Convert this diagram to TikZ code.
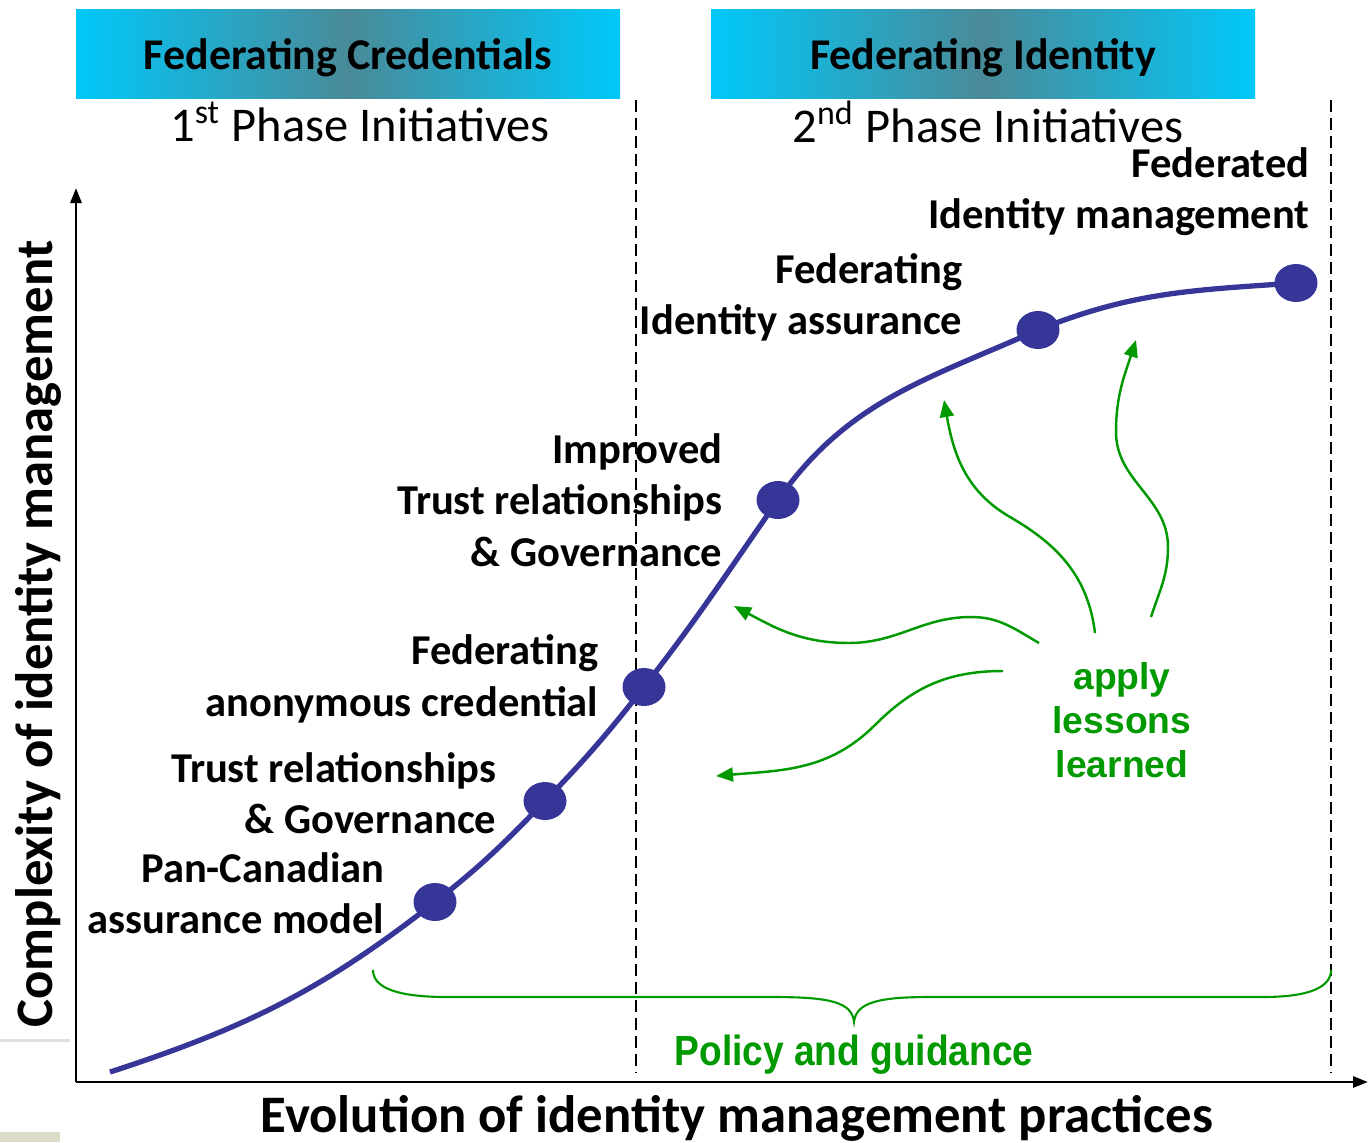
\documentclass[tikz,border=0pt]{standalone}
\usepackage{fontspec}
\setmainfont{Carlito}
\newfontfamily\arialfont{Liberation Sans}
\usetikzlibrary{arrows.meta,shapes.geometric,positioning,calc}

\definecolor{curveblue}{RGB}{54,54,152}
\definecolor{lessongreen}{RGB}{0,153,0}
\definecolor{hdrcyan}{RGB}{0,200,250}
\definecolor{hdrteal}{RGB}{74,138,152}
\definecolor{slidebeige}{RGB}{221,220,200}

\tikzset{
  hdrbox/.style={minimum width=5.44cm, minimum height=0.89cm, inner sep=0pt, text depth=0pt,
    left color=hdrcyan, right color=hdrcyan, middle color=hdrteal,
    font=\fontsize{12.5}{15}\selectfont\bfseries},
  phasetext/.style={font=\fontsize{13.8}{16}\selectfont, inner sep=0pt},
  stagelabel/.style={anchor=east, align=right, inner sep=0pt,
    font=\fontsize{12.1}{14.6}\selectfont\bfseries},
  milestone/.style={ellipse, fill=curveblue, minimum width=0.43cm, minimum height=0.38cm, inner sep=0pt},
  phaseline/.style={dashed, dash pattern=on 0.12cm off 0.06cm, line width=0.6pt},
  lessonarrow/.style={lessongreen, line width=0.7pt, -{Triangle[length=0.17cm,width=0.14cm]}},
  greentext/.style={text=lessongreen, inner sep=0pt, font=\arialfont\bfseries}
}

\begin{document}
\begin{tikzpicture}
    \useasboundingbox (0,0) rectangle (13.68,11.42);

    % slide remnants at the left edge
    \fill[slidebeige] (0,0) rectangle (0.60,0.10);
    \fill[black!12] (0,1.00) rectangle (0.70,1.03);

    % headers
    \node[hdrbox] (hdrcred) at (3.48,10.875) {Federating Credentials};
    \node[hdrbox] (hdrid) at (9.83,10.875) {Federating Identity};
    \node[phasetext] (phaseone) at (3.60,10.20) {1\textsuperscript{st} Phase Initiatives};
    \node[phasetext] (phasetwo) at (9.88,10.20) {2\textsuperscript{nd} Phase Initiatives};

    % axes
    \coordinate (origin) at (0.76,0.60);
    \coordinate (ytop) at (0.76,9.54);
    \coordinate (xend) at (13.68,0.60);
    \draw[line width=0.8pt, -{Triangle[length=0.15cm,width=0.11cm]}] (origin) -- (ytop);
    \draw[line width=0.8pt, -{Triangle[length=0.15cm,width=0.11cm]}] (origin) -- (xend);
    \node[rotate=90, inner sep=0pt, font=\fontsize{15}{18}\selectfont\bfseries] (ylabel) at (0.38,5.08) {Complexity of identity management};
    \node[inner sep=0pt, font=\fontsize{15}{18}\selectfont\bfseries] (xlabel) at (7.37,0.24) {Evolution of identity management practices};

    % stage labels
    \node[stagelabel] (panlbl) at (3.85,2.49) {Pan-Canadian\\assurance model};
    \node[stagelabel] (trustlbl) at (4.97,3.49) {Trust relationships\\\& Governance};
    \node[stagelabel] (anonlbl) at (5.99,4.63) {Federating\\anonymous credential};
    \node[stagelabel] (improvedlbl) at (7.23,6.42) {Improved\\Trust relationships\\\& Governance};
    \node[stagelabel] (assurlbl) at (9.63,8.445) {Federating\\Identity assurance};
    \node[stagelabel] (mgmtlbl) at (13.10,9.50) {Federated\\Identity management};

    % phase boundaries
    \coordinate (bndtop) at (6.36,10.42);
    \coordinate (bndbot) at (6.36,0.70);
    \coordinate (endtop) at (13.31,10.42);
    \coordinate (endbot) at (13.31,0.70);
    \draw[phaseline] (bndtop) -- (bndbot);
    \draw[phaseline] (endtop) -- (endbot);

    % evolution curve
    \coordinate (s0) at (1.10,0.70);
    \coordinate (p1) at (4.35,2.40);
    \coordinate (p2) at (5.45,3.41);
    \coordinate (p3) at (6.44,4.55);
    \coordinate (p4) at (7.78,6.42);
    \coordinate (p5) at (10.38,8.12);
    \coordinate (p6) at (12.96,8.59);
    \draw[curveblue, line width=1.5pt] (s0) to[out=18,in=218] (p1) to[out=38,in=226] (p2)
        to[out=46,in=232] (p3) to[out=52,in=235] (p4) to[out=55,in=204] (p5) to[out=22,in=184] (p6);
    \foreach \p in {1,...,6}
        \node[milestone] (m\p) at (p\p) {};

    % policy brace
    \coordinate (bracel) at (3.73,1.72);
    \coordinate (bracer) at (13.31,1.72);
    \draw[lessongreen, line width=0.6pt] (bracel) .. controls (3.73,1.50) and (4.10,1.45) .. (4.47,1.45)
        -- (7.72,1.45) .. controls (8.30,1.45) and (8.52,1.40) .. (8.54,1.20)
        .. controls (8.56,1.40) and (8.80,1.45) .. (9.30,1.45) -- (12.63,1.45)
        .. controls (13.10,1.45) and (13.31,1.55) .. (bracer);
    \node[greentext, font=\fontsize{12}{14}\selectfont\arialfont\bfseries, xscale=0.88] (policy) at (8.54,0.87) {Policy and guidance};

    % lessons learned
    \node[greentext, align=center, font=\fontsize{10.6}{12.5}\selectfont\arialfont\bfseries] (lessons) at (11.22,4.22) {apply\\lessons\\learned};
    \coordinate (a1) at (10.39,4.99);
    \coordinate (a2) at (10.03,4.71);
    \coordinate (a3) at (10.95,5.09);
    \coordinate (a4) at (11.51,5.25);
    \coordinate (t1) at (7.34,5.36);
    \coordinate (t2) at (7.16,3.66);
    \coordinate (t3) at (9.44,7.42);
    \coordinate (t4) at (11.36,8.02);
    \draw[lessonarrow] (a1) to[out=150,in=0] (9.71,5.25) to[out=180,in=0] (8.49,4.99) to[out=180,in=-28] (t1);
    \draw[lessonarrow] (a2) to[out=180,in=45] (8.75,4.17) to[out=225,in=5] (t2);
    \draw[lessonarrow] (a3) to[out=97,in=-30] (10.10,6.25) to[out=150,in=-80] (t3);
    \draw[lessonarrow] (a4) to[out=72,in=-90] (11.68,5.95) to[out=90,in=-90] (11.16,7.10) to[out=90,in=-108] (t4);

\end{tikzpicture}
\end{document}
